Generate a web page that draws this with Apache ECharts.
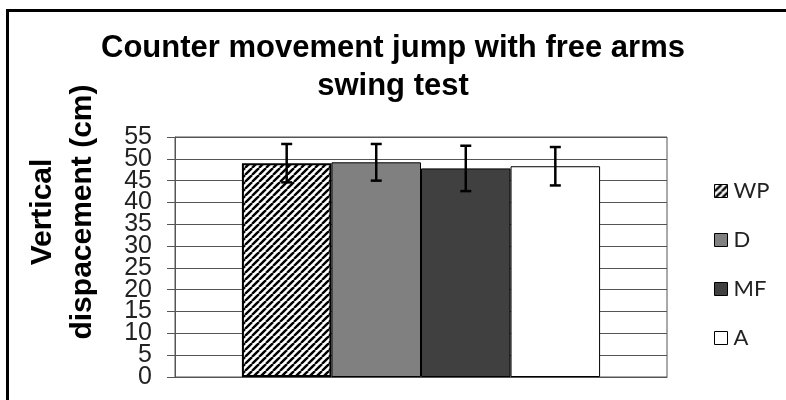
<!DOCTYPE html>
<html>
<head>
<meta charset="utf-8">
<script src="https://cdn.jsdelivr.net/npm/echarts@6/dist/echarts.min.js"></script>
<style>
  html, body { margin: 0; padding: 0; background: #fff; }
  #chart { width: 786px; height: 400px; }
</style>
</head>
<body>
<div id="chart"></div>
<script>
// data
const categories = ['']
const seriesNames = ['WP', 'D', 'MF', 'A']
const means = [49.0, 49.2, 47.8, 48.3]
const errors = [4.4, 4.2, 5.2, 4.4]
const yMin = 0
const yMax = 55
const yStep = 5
const yTickLabels = ['0', '5', '10', '15', '20', '25', '30', '35', '40', '45', '50', '55']

const barGapRatio = 0.272

// diagonal hatch for WP
const makeHatch = () => {
    const c = document.createElement('canvas')
    c.width = 7
    c.height = 7
    const ctx = c.getContext('2d')
    ctx.fillStyle = '#fff'
    ctx.fillRect(0, 0, 7, 7)
    ctx.strokeStyle = '#000'
    ctx.lineWidth = 2.4
    for (const k of [-7, 0, 7]) {
        ctx.beginPath()
        ctx.moveTo(k, 7)
        ctx.lineTo(k + 7, 0)
        ctx.stroke()
    }
    return c
}
const hatch = makeHatch()

const fills = [{ image: hatch, repeat: 'repeat' }, '#808080', '#404040', '#ffffff']
const borders = [2, 1, 1, 1]

const barSeries = seriesNames.map((name, i) => ({
    name: name,
    type: 'bar',
    yAxisIndex: 0,
    data: [means[i]],
    barGap: '0%',
    barCategoryGap: (barGapRatio * 100) + '%',
    itemStyle: {
        color: fills[i],
        borderColor: '#000',
        borderWidth: borders[i]
    }
}))

const errorData = means.map((m, i) => [0, m - errors[i], m + errors[i], i])

const errorSeries = {
    type: 'custom',
    silent: true,
    yAxisIndex: 0,
    z: 10,
    data: errorData,
    renderItem: (params, api) => {
        const band = api.size([1, 0])[0]
        const barW = band * (1 - barGapRatio) / seriesNames.length
        const top = api.coord([0, api.value(2)])
        const bot = api.coord([0, api.value(1)])
        const x = top[0] + (api.value(3) - (seriesNames.length - 1) / 2) * barW
        const cap = 5.5
        const st = { stroke: '#000', lineWidth: 2.5 }
        return {
            type: 'group',
            children: [
                { type: 'line', shape: { x1: x, y1: top[1], x2: x, y2: bot[1] }, style: st },
                { type: 'line', shape: { x1: x - cap, y1: top[1], x2: x + cap, y2: top[1] }, style: st },
                { type: 'line', shape: { x1: x - cap, y1: bot[1], x2: x + cap, y2: bot[1] }, style: st }
            ]
        }
    }
}

const myChart = echarts.init(document.getElementById('chart'), null, { renderer: 'canvas' })
const option = {
    backgroundColor: '#fff',
    animation: false,
    title: {
        text: 'Counter movement jump with free arms\nswing test',
        left: 'center',
        top: 29,
        padding: [0, 0, 0, 8],
        textStyle: {
            fontFamily: 'Liberation Sans, Arial, sans-serif',
            fontSize: 31,
            fontWeight: 'bold',
            lineHeight: 38,
            color: '#000'
        }
    },
    legend: {
        orient: 'vertical',
        left: 709,
        top: 175,
        itemWidth: 13,
        itemHeight: 13,
        itemGap: 27,
        icon: 'rect',
        data: seriesNames,
        itemStyle: { borderColor: '#000', borderWidth: 1 },
        textStyle: {
            fontFamily: 'Lato, Open Sans, sans-serif',
            fontSize: 22,
            lineHeight: 21,
            color: '#222',
            padding: [0, 0, 0, 1]
        }
    },
    graphic: [
        {
            type: 'polyline',
            silent: true,
            shape: { points: [[7.5, 402], [7.5, 10.5], [790, 10.5]] },
            style: { stroke: '#000', lineWidth: 3, fill: null }
        },
        {
            type: 'text',
            silent: true,
            x: 63,
            y: 212,
            rotation: Math.PI / 2,
            style: {
                text: 'Vertical\ndispacement (cm)',
                align: 'center',
                verticalAlign: 'middle',
                font: 'bold 30px Liberation Sans, Arial, sans-serif',
                lineHeight: 40,
                fill: '#000'
            }
        }
    ],
    grid: {
        left: 175,
        right: 119,
        top: 137,
        bottom: 23,
        show: true,
        borderColor: '#555',
        borderWidth: 1
    },
    xAxis: {
        type: 'category',
        data: categories,
        axisTick: { show: false },
        axisLabel: { show: false },
        axisLine: { lineStyle: { color: '#555', width: 1 } }
    },
    yAxis: [
        {
            type: 'value',
            min: yMin,
            max: yMax,
            interval: yStep,
            axisLine: { show: true, lineStyle: { color: '#555', width: 1 } },
            axisTick: { show: true, length: 8, lineStyle: { color: '#555' } },
            axisLabel: { show: false },
            splitLine: { show: true, lineStyle: { color: '#555', width: 1 } }
        },
        {
            // label-only axis so that every tick label stays visible
            type: 'category',
            position: 'left',
            data: yTickLabels,
            boundaryGap: false,
            axisLine: { show: false },
            axisTick: { show: false },
            splitLine: { show: false },
            axisLabel: {
                interval: 0,
                margin: 23,
                fontFamily: 'Liberation Sans, Arial, sans-serif',
                fontSize: 25,
                color: '#222'
            }
        }
    ],
    series: [...barSeries, errorSeries]
}
myChart.setOption(option)
</script>
</body>
</html>
